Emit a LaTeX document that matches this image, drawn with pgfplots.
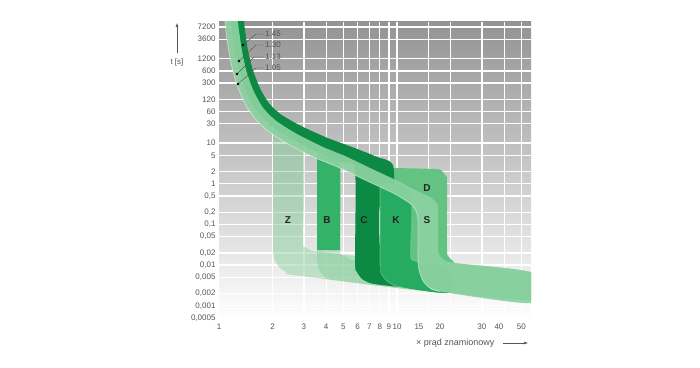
\documentclass[border=0pt]{standalone}
\usepackage{fontspec}
\setmainfont{Liberation Sans}
\usepackage{pgfplots}
\pgfplotsset{compat=1.18}
\usetikzlibrary{arrows.meta}
\definecolor{bgtop}{RGB}{148,148,148}
\definecolor{thermal}{RGB}{140,210,160}
\definecolor{pale}{RGB}{130,205,150}
\definecolor{bgreen}{RGB}{52,178,104}
\definecolor{cgreen}{RGB}{12,138,68}
\definecolor{kgreen}{RGB}{38,172,98}
\definecolor{dgreen}{RGB}{100,195,130}
\definecolor{ticktext}{RGB}{85,85,85}
\definecolor{lettertext}{RGB}{35,35,35}
\begin{document}
\begin{tikzpicture}
\path[use as bounding box] (0,0) rectangle (700pt,367pt);
\begin{axis}[
  at={(219pt,47pt)}, anchor=south west,
  scale only axis, width=312pt, height=298pt,
  xmode=log, ymode=log,
  xmin=1, xmax=56.6, ymin=0.000446, ymax=9550,
  axis background/.style={top color=bgtop, bottom color=white},
  axis line style={draw=none},
  tick style={draw=none},
  grid=major,
  major grid style={white, line width=1.3pt},
  xtick={2,3,4,5,6,7,8,9,10,15,20,30,40,50},
  xticklabels={2,3,4,5,6,7,8,9,10,{},{},30,{},50},
  extra x ticks={1,13.29,17.44,37.4}, extra x tick labels={1,15,20,40}, extra x tick style={grid=none},
  ytick={0.0005,0.001,0.002,0.005,0.01,0.02,0.05,0.1,0.2,0.5,1,2,5,10,30,60,120,300,600,1200,3600,7200},
  yticklabels={{0,0005},{0,001},{0,002},{0,005},{0,01},{0,02},{0,05},{0,1},{0,2},{0,5},1,2,5,10,30,60,120,300,600,1200,3600,7200},
  ticklabel style={font=\fontsize{8}{9}\selectfont, text=ticktext},
]
% Z band
\addplot[draw=none, fill=pale, fill opacity=0.45, smooth, tension=0.4] coordinates {
(2.011,18.8) (2.965,8.51) (2.965,0.0414) (3.042,0.0279) (3.245,0.0235) (3.693,0.0210) (18.61,0.00848)
(18.61,0.002163) (2.673,0.00564) (2.410,0.00657) (2.20,0.00848) (2.064,0.01262) (2.011,0.0235)} --cycle;
% B band (pale tail)
\addplot[draw=none, fill=pale, fill opacity=0.45, smooth, tension=0.4] coordinates {
(3.553,5.41) (4.784,3.85) (4.784,0.0263) (4.973,0.0177) (5.445,0.01413) (6.36,0.01262) (18.61,0.00848)
(18.61,0.002163) (4.485,0.00425) (3.940,0.00509) (3.646,0.00757) (3.553,0.01334)} --cycle;
% B strip
\addplot[draw=none, fill=bgreen] coordinates {
(3.553,5.41) (4.784,3.85) (4.784,0.0235) (3.553,0.0235)} --cycle;
% D band
\addplot[draw=none, fill=dgreen, smooth, tension=0.4] coordinates {
(9.50,2.445) (16.56,2.31) (17.89,2.06) (18.85,1.556) (19.10,1.107) (19.10,0.0235) (19.60,0.0158)
(20.64,0.01262) (22.59,0.01064) (58.1,0.00638) (58.1,0.001384) (18.61,0.002163) (9.50,0.00306)} --cycle;
% C band (dark): 1.45 edge, strip, tail, back along the middle of the thermal band
\addplot[draw=none, fill=cgreen, smooth, tension=0.4] coordinates {
(1.382,14190) (1.389,8020) (1.449,2094) (1.548,641) (1.706,217) (1.914,94.4) (2.227,50.9) (2.877,26.7)
(4.054,13.5) (5.445,8.41) (7.59,4.72) (9.50,2.90) (9.50,0.3006) (8.03,0.3006) (8.03,0.0235)
(8.45,0.01493) (9.37,0.01191) (11.09,0.01064) (18.61,0.00848) (18.61,0.002163) (10.40,0.00289)
(8.03,0.00327) (7.05,0.00362) (6.36,0.00455) (5.96,0.00676) (5.81,0.01191) (5.81,2.25)
(4.942,3.34) (3.713,5.56) (2.602,12.1) (1.978,25.9) (1.652,57.4) (1.446,157) (1.309,520) (1.228,1849)
(1.176,7450) (1.160,14190)} --cycle;
% K band
\addplot[draw=none, fill=kgreen, smooth, tension=0.4] coordinates {
(8.03,1.107) (11.83,0.628) (11.83,0.0177) (12.46,0.01262) (13.82,0.01064) (19.85,0.00848)
(19.85,0.002094) (10.95,0.00281) (9.87,0.00306) (8.90,0.00384) (8.24,0.0057) (8.03,0.01005)} --cycle;
\addplot[white, opacity=0.35, line width=0.6pt, smooth, tension=0.4] coordinates {
(8.03,1.0) (8.03,0.01005) (8.24,0.0057) (8.90,0.00384) (9.87,0.00306) (10.95,0.00281)};
% thermal band + S
\addplot[draw=none, fill=thermal, fill opacity=0.92, smooth, tension=0.4] coordinates {
(1.270,14190) (1.285,7745) (1.343,1977) (1.427,578) (1.571,184) (1.774,72.8) (2.090,35.6) (2.719,17.1)
(3.849,8.00) (5.13,4.78) (7.09,2.42) (10.23,1.146) (12.62,0.703) (14.94,0.501) (16.35,0.377) (16.99,0.254)
(16.99,0.0263) (17.44,0.01675) (18.85,0.01262) (21.18,0.01125) (58.1,0.00638)
(58.1,0.001167) (17.44,0.00224) (15.32,0.00273) (14.00,0.00406) (13.29,0.00757) (13.12,0.01493)
(13.12,0.1285) (12.79,0.2143) (12.14,0.3006) (11.09,0.399) (9.50,0.593) (6.61,1.239) (4.784,2.445)
(3.599,4.07) (2.965,6.05) (2.505,8.99) (2.145,13.4) (1.885,19.9) (1.699,29.6) (1.552,46.6) (1.436,77.4)
(1.346,136.5) (1.270,255) (1.214,474) (1.168,935) (1.138,1746) (1.109,3444) (1.088,7194) (1.074,14190)} --cycle;
% highlight on lower edge
\addplot[white, opacity=0.45, line width=0.8pt, smooth, tension=0.4] coordinates {
(1.074,14190) (1.088,7194) (1.109,3444) (1.138,1746) (1.168,935) (1.214,474) (1.270,255) (1.346,136.5)
(1.436,77.4) (1.552,46.6) (1.699,29.6) (1.885,19.9) (2.145,13.4) (2.505,8.99) (2.965,6.05) (3.599,4.07)
(4.784,2.445) (6.61,1.239) (9.50,0.593) (11.09,0.399) (12.14,0.3006) (12.79,0.2143) (13.12,0.1285)
(13.12,0.01493) (13.29,0.00757) (14.00,0.00406) (15.32,0.00273) (17.44,0.00224)};
% letters
\node[font=\fontsize{10}{12}\selectfont\bfseries, text=lettertext] at (axis cs:2.441,0.1285) {Z};
\node[font=\fontsize{10}{12}\selectfont\bfseries, text=lettertext] at (axis cs:4.045,0.1285) {B};
\node[font=\fontsize{10}{12}\selectfont\bfseries, text=lettertext] at (axis cs:6.53,0.1285) {C};
\node[font=\fontsize{10}{12}\selectfont\bfseries, text=lettertext] at (axis cs:9.87,0.1285) {K};
\node[font=\fontsize{10}{12}\selectfont\bfseries, text=lettertext] at (axis cs:14.74,0.1285) {S};
\node[font=\fontsize{10}{12}\selectfont\bfseries, text=lettertext] at (axis cs:14.74,0.787) {D};
% leaders and dots
\addplot[ticktext, line width=0.4pt] coordinates {(1.364,2594) (1.614,4842) (1.789,4842)};
\addplot[ticktext, line width=0.4pt] coordinates {(1.295,1049) (1.614,2594) (1.789,2594)};
\addplot[ticktext, line width=0.4pt] coordinates {(1.262,502) (1.573,1315) (1.789,1315)};
\addplot[ticktext, line width=0.4pt] coordinates {(1.279,285) (1.614,705) (1.789,705)};
\addplot[only marks, mark=*, mark size=1.1pt, black] coordinates {(1.364,2594) (1.295,1049) (1.262,502) (1.279,285)};
\node[anchor=west, inner sep=0, font=\fontsize{8}{9}\selectfont, text=ticktext] at (axis cs:1.813,4842) {1.45};
\node[anchor=west, inner sep=0, font=\fontsize{8}{9}\selectfont, text=ticktext] at (axis cs:1.813,2594) {1.30};
\node[anchor=west, inner sep=0, font=\fontsize{8}{9}\selectfont, text=ticktext] at (axis cs:1.813,1315) {1.13};
\node[anchor=west, inner sep=0, font=\fontsize{8}{9}\selectfont, text=ticktext] at (axis cs:1.813,705) {1.05};
\end{axis}
\node[font=\fontsize{8}{9}\selectfont, text=ticktext] at (177pt,305pt) {t [s]};
\draw[-{Latex[length=4pt,width=3pt]}, ticktext, line width=0.5pt] (177pt,314pt) -- (177pt,344pt);
\node[anchor=west, inner sep=0, font=\fontsize{9}{10}\selectfont, text=ticktext] at (416pt,24pt) {× prąd znamionowy};
\draw[-{Latex[length=4pt,width=3pt]}, ticktext, line width=0.5pt] (503pt,24pt) -- (528pt,24pt);
\end{tikzpicture}
\end{document}
